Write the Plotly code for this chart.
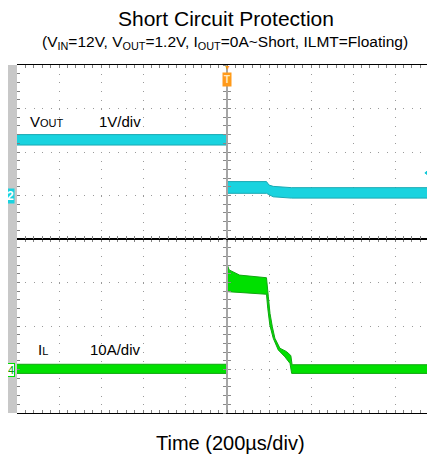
import plotly.graph_objects as go

# ---- data (time in divisions of 200us, VOUT in V, IL in A) ----
X_MAX = 426 / 42
vout_t_upper = [0, 5.0, 5.0, 5.94, 6.0, 6.1, 6.54, 10.3]
vout_upper = [1.40, 1.40, 0.32, 0.32, 0.24, 0.21, 0.18, 0.18]
vout_t_lower = [0, 5.0, 5.0, 5.94, 6.1, 6.54, 10.3]
vout_lower = [1.16, 1.16, 0.05, 0.05, -0.03, -0.06, -0.06]

il_t_upper = [0, 5.0, 5.01, 5.05, 5.3, 5.94, 5.985, 6.024, 6.08, 6.14, 6.26, 6.42, 6.52, 6.55, 10.3]
il_upper = [1.2, 1.2, 24.0, 22.9, 21.7, 21.1, 16.7, 12.9, 9.8, 7.2, 4.9, 4.1, 3.2, 1.1, 1.1]
il_t_lower = [0, 5.0, 5.01, 5.94, 5.97, 6.02, 6.10, 6.22, 6.38, 6.50, 6.54, 10.3]
il_lower = [-0.9, -0.9, 17.9, 17.3, 14.1, 10.2, 7.2, 4.5, 2.9, 1.4, -0.9, -0.9]

# trigger level marker (time div, volts)
trig_level_t = [9.83]
trig_level_v = [0.52]

CYAN = "#19d3df"
CYAN_EDGE = "#1aa9b3"
GREEN = "#00e000"
GREEN_EDGE = "#12a612"
FONT = "Liberation Sans, Arial, sans-serif"

PW = 426.0  # full plot width in px (part beyond the window is cut off)
def px(sx):
    return (sx - 17) / PW
def py(sy):
    return (413 - sy) / 348.0

fig = go.Figure()

fig.add_trace(go.Scatter(
    x=vout_t_upper + vout_t_lower[::-1], y=vout_upper + vout_lower[::-1],
    fill="toself", fillcolor=CYAN, mode="lines",
    line=dict(color=CYAN_EDGE, width=1), xaxis="x2", yaxis="y2",
    showlegend=False, hoverinfo="skip"))

fig.add_trace(go.Scatter(
    x=il_t_upper + il_t_lower[::-1], y=il_upper + il_lower[::-1],
    fill="toself", fillcolor=GREEN, mode="lines",
    line=dict(color=GREEN_EDGE, width=1), xaxis="x", yaxis="y",
    showlegend=False, hoverinfo="skip"))

fig.add_trace(go.Scatter(
    x=trig_level_t, y=trig_level_v, mode="markers", xaxis="x2", yaxis="y2",
    marker=dict(symbol="triangle-left", size=10, color="#10c8d8",
                line=dict(width=1, color="#10c8d8")),
    showlegend=False, hoverinfo="skip", cliponaxis=False))

for ya, xa in (("y3", "x2"), ("y4", "x2"), ("y5", "x"), ("y6", "x")):
    fig.add_trace(go.Scatter(x=[None], y=[None], xaxis=xa, yaxis=ya,
                             showlegend=False, hoverinfo="skip"))

grid_col = "#9a9a9a"
tick_col = "#808080"
xcommon = dict(range=[0, X_MAX], dtick=1, tick0=0, showgrid=True, gridcolor=grid_col,
               griddash="1px,7.7px", gridwidth=1, showline=True, linecolor="black",
               linewidth=1, mirror="allticks", ticks="inside", ticklen=3,
               tickcolor=tick_col, showticklabels=False, zeroline=False,
               minor=dict(dtick=0.2, ticks="inside", ticklen=3, tickcolor=tick_col,
                          showgrid=False), fixedrange=True)

fig.update_layout(
    width=435, height=462,
    margin=dict(l=9, r=0, t=57, b=57),
    paper_bgcolor="white", plot_bgcolor="white",
    xaxis=dict(anchor="y", domain=[0, 1], **xcommon),
    xaxis2=dict(anchor="y2", domain=[0, 1], matches="x", **xcommon),
    yaxis=dict(domain=[0, 0.5], anchor="x", range=[-10, 30], dtick=10, tick0=0,
               showgrid=True, gridcolor=grid_col, griddash="1px,7.4px",
               showline=False, zeroline=False, ticks="inside", ticklen=3,
               tickcolor=tick_col, showticklabels=False,
               minor=dict(dtick=2, ticks="inside", ticklen=3, tickcolor=tick_col,
                          showgrid=False)),
    yaxis2=dict(domain=[0.5, 1], anchor="x2", range=[-1, 3], dtick=1, tick0=0,
                showgrid=True, gridcolor=grid_col, griddash="1px,7.4px",
                showline=False, zeroline=False, ticks="inside", ticklen=3,
                tickcolor=tick_col, showticklabels=False,
                minor=dict(dtick=0.2, ticks="inside", ticklen=3, tickcolor=tick_col,
                           showgrid=False)),
    font=dict(family=FONT, color="black"),
)

center_pos = 5.0 / X_MAX
for name, base, rng, dt, tks in (("yaxis3", "y2", [-1, 3], 0.2, "outside"),
                                 ("yaxis4", "y2", [-1, 3], 0.2, "inside"),
                                 ("yaxis5", "y", [-10, 30], 2, "outside"),
                                 ("yaxis6", "y", [-10, 30], 2, "inside")):
    fig.layout[name] = dict(overlaying=base, anchor="free", position=center_pos,
                            range=rng, dtick=dt, showgrid=False, zeroline=False,
                            showline=True, linecolor="#a6a6a6", linewidth=2,
                            ticks=tks, ticklen=3, tickcolor="#8a8a8a",
                            showticklabels=False)

# gray strip at left
fig.add_shape(type="rect", xref="paper", yref="paper", x0=px(7), x1=0, y0=0, y1=1,
              fillcolor="#c8c8c8", line=dict(width=0), layer="below")

ann = []
ann.append(dict(text="Short Circuit Protection", xref="paper", yref="paper",
                x=px(225.5), y=py(18), showarrow=False, font=dict(size=21),
                xanchor="center", yanchor="middle"))
ann.append(dict(text="(V<sub>IN</sub>=12V, V<sub>OUT</sub>=1.2V, I<sub>OUT</sub>=0A~Short, ILMT=Floating)",
                xref="paper", yref="paper", x=px(225), y=py(43), showarrow=False,
                font=dict(size=15.5), xanchor="center", yanchor="middle"))
ann.append(dict(text="Time (200µs/div)", xref="paper", yref="paper",
                x=px(230), y=py(443), showarrow=False, font=dict(size=20),
                xanchor="center", yanchor="middle"))
ann.append(dict(text="V<span style='font-size:11px'>OUT</span>", xref="x2", yref="y2",
                x=(28-17)/42, y=(195.5-121)/43.5, showarrow=False, font=dict(size=15),
                xanchor="left", yanchor="middle"))
ann.append(dict(text="1V/div", xref="x2", yref="y2",
                x=(97-17)/42, y=(195.5-121)/43.5, showarrow=False, font=dict(size=15),
                xanchor="left", yanchor="middle"))
ann.append(dict(text="I<span style='font-size:11px'>L</span>", xref="x", yref="y",
                x=(36-17)/42, y=(369.5-349)/4.35, showarrow=False, font=dict(size=15),
                xanchor="left", yanchor="middle"))
ann.append(dict(text="10A/div", xref="x", yref="y",
                x=(88-17)/42, y=(369.5-349)/4.35, showarrow=False, font=dict(size=15),
                xanchor="left", yanchor="middle"))
# channel markers
ann.append(dict(text="<b>2</b>", xref="paper", yref="y2", x=px(10.5), y=0,
                showarrow=False, font=dict(size=12, color="white"), bgcolor=CYAN,
                borderpad=0, xanchor="center", yanchor="middle"))
ann.append(dict(text="4", xref="paper", yref="y", x=px(10.5), y=0,
                showarrow=False, font=dict(size=11, color="#0a9a0a"), bgcolor="white",
                bordercolor=GREEN, borderwidth=1, borderpad=0,
                xanchor="center", yanchor="middle"))
# trigger markers
ann.append(dict(text="▼", xref="x2", yref="paper", x=5.0, y=py(67),
                showarrow=False, font=dict(size=7, color="#ff9a1a"),
                xanchor="center", yanchor="middle"))
ann.append(dict(text="<b>T</b>", xref="x2", yref="paper", x=5.0, y=py(79),
                showarrow=False, font=dict(size=10, color="#ffe9c0"), bgcolor="#ff9a1a",
                borderpad=1, xanchor="center", yanchor="middle"))
fig.update_layout(annotations=ann)

fig.write_html("out.html")
